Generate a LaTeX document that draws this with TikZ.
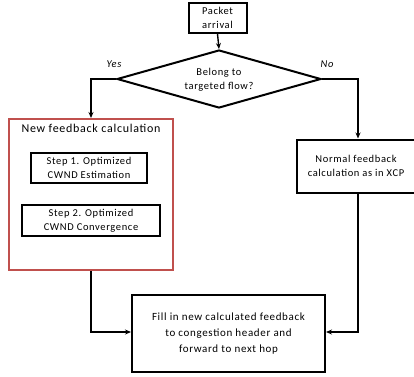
\documentclass[tikz,border=0pt]{standalone}
\usepackage{fontspec}
\setmainfont{Carlito}[LetterSpace=6]
\usetikzlibrary{arrows.meta,shapes.geometric}
\definecolor{redacc}{HTML}{C0504D}
\begin{document}
\begin{tikzpicture}[x=1pt,y=-1pt,
  box/.style={draw,line width=2pt,align=center,font=\fontsize{10.5}{14}\selectfont,inner sep=0pt},
  conn/.style={line width=1.4pt,-{Stealth[length=6pt,width=5pt]}},
  lbl/.style={font=\fontsize{10.5}{12}\selectfont\itshape}]
\useasboundingbox (0,0) rectangle (414,376);
\node[box,minimum width=58pt,minimum height=30pt] (pa) at (217.5,18) {Packet\\arrival};
\node[draw,line width=2pt,diamond,aspect=3.5,minimum width=204pt,minimum height=58pt,inner sep=0pt] (dec) at (219,79) {};
\node[align=center,font=\fontsize{10.5}{14}\selectfont] (dect) at (219,80) {Belong to\\targeted flow?};
\node[draw=redacc,line width=2pt,minimum width=164pt,minimum height=151pt,inner sep=0pt] (nf) at (91,194.5) {};
\node[font=\fontsize{12}{14}\selectfont] (nft) at (91,128) {New feedback calculation};
\node[box,minimum width=116pt,minimum height=30pt] (s1) at (89,168) {Step 1. Optimized\\CWND Estimation};
\node[box,minimum width=138pt,minimum height=31pt] (s2) at (91,220.5) {Step 2. Optimized\\CWND Convergence};
\node[box,minimum width=118pt,minimum height=53pt] (nx) at (356,166) {Normal feedback\\calculation as in XCP};
\node[box,minimum width=193pt,minimum height=77pt,font=\fontsize{11}{16}\selectfont] (fi) at (228.5,333.5) {Fill in new calculated feedback\\to congestion header and\\forward to next hop};
\coordinate (lc) at (91,79);
\coordinate (rc) at (358,79);
\coordinate (lb) at (91,332);
\coordinate (rb) at (358,332);
\draw[conn] (pa.south) -- (dec.north);
\draw[conn] (dec.west) -- (lc) -- (nf.north);
\draw[conn] (dec.east) -- (rc) -- (rc |- nx.north);
\draw[conn] (nf.south) -- (lb) -- (fi.west |- lb);
\draw[conn] (rc |- nx.south) -- (rb) -- (fi.east |- rb);
\node[lbl] (yes) at (114,64) {Yes};
\node[lbl] (no) at (327,64) {No};
\end{tikzpicture}
\end{document}
